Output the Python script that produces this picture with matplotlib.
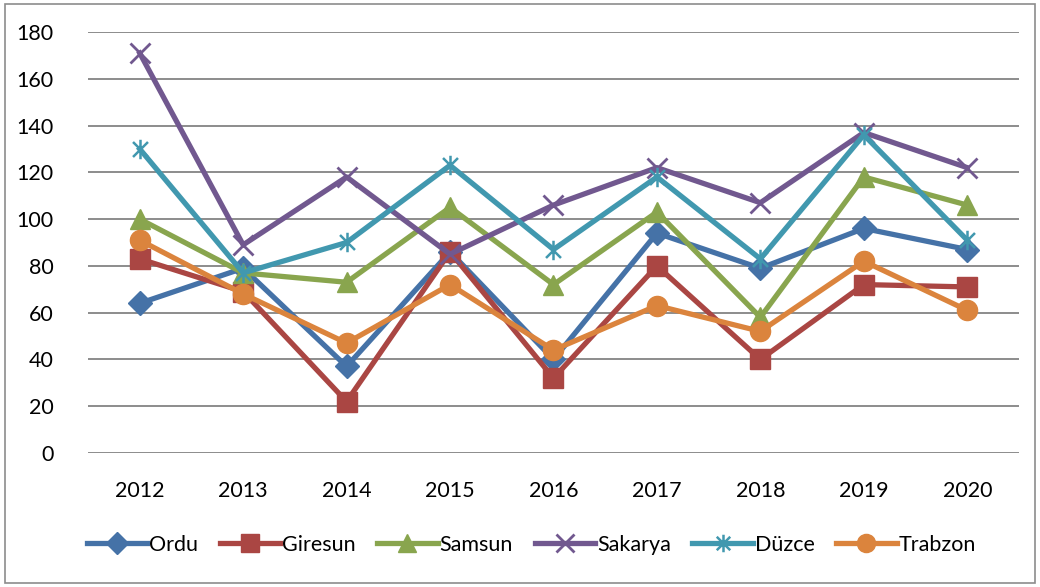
import numpy as np
import matplotlib
matplotlib.use('Agg')
import matplotlib.pyplot as plt
from matplotlib.path import Path
from matplotlib.patches import Rectangle

### Data
years = ['2012', '2013', '2014', '2015', '2016', '2017', '2018', '2019', '2020']
ordu    = [64, 79, 37, 86, 40, 94, 79, 96, 87]
giresun = [83, 69, 22, 86, 32, 80, 40, 72, 71]
samsun  = [100, 77, 73, 105, 72, 103, 58, 118, 106]
sakarya = [171, 89, 118, 85, 106, 122, 107, 137, 122]
duzce   = [130, 77, 90, 123, 87, 118, 83, 136, 91]
trabzon = [91, 68, 47, 72, 44, 63, 52, 82, 61]
names = ['Ordu', 'Giresun', 'Samsun', 'Sakarya', 'Düzce', 'Trabzon']

plt.rcParams['font.family'] = ['Lato', 'DejaVu Sans']

# asterisk marker: an X with a vertical stroke
star = Path([(-1, -1), (1, 1), (-1, 1), (1, -1), (0, -1.3), (0, 1.3)],
            [Path.MOVETO, Path.LINETO, Path.MOVETO, Path.LINETO, Path.MOVETO, Path.LINETO])

styles = [
    dict(c='#4572A7', marker='D', ms=12),
    dict(c='#AA4643', marker='s', ms=14),
    dict(c='#89A54E', marker='^', ms=15),
    dict(c='#71588F', marker='x', ms=14, mew=2),
    dict(c='#4198AF', marker=star, ms=14, mew=1.8, mfc='none'),
    dict(c='#DB843D', marker='o', ms=14.5),
]

fig = plt.figure()
fig.set_size_inches(10.4, 5.87)
ax = fig.add_axes([0.0846, 0.2283, 0.8952, 0.7172])

x = np.arange(len(years))
for vals, name, st in zip([ordu, giresun, samsun, sakarya, duzce, trabzon], names, styles):
    ax.plot(x, vals, lw=3.8, label=name, **st)

ax.set_xlim(-0.5, len(years) - 0.5)
ax.set_ylim(0, 180)
ax.set_yticks(range(0, 181, 20))
ax.set_xticks(x)
ax.set_xticklabels(years)
ax.tick_params(axis='both', length=0, labelsize=15.5)
ax.tick_params(axis='x', pad=20)
ax.tick_params(axis='y', pad=25)
ax.yaxis.grid(True, color='#8c8c8c', lw=1.4)
ax.set_axisbelow(True)
for sp in ax.spines.values():
    sp.set_visible(False)

ax.legend(loc='center', bbox_to_anchor=(0.511, 0.0716), bbox_transform=fig.transFigure,
          ncol=6, frameon=False, fontsize=15.5, handlelength=2.8, handletextpad=0.1,
          columnspacing=1.0, markerscale=0.9)

# outer chart frame
fig.patches.append(Rectangle((0.005, 0.007), 0.99, 0.986, transform=fig.transFigure,
                             fill=False, ec='#8c8c8c', lw=1.2))

fig.savefig('out.png', dpi=100)
